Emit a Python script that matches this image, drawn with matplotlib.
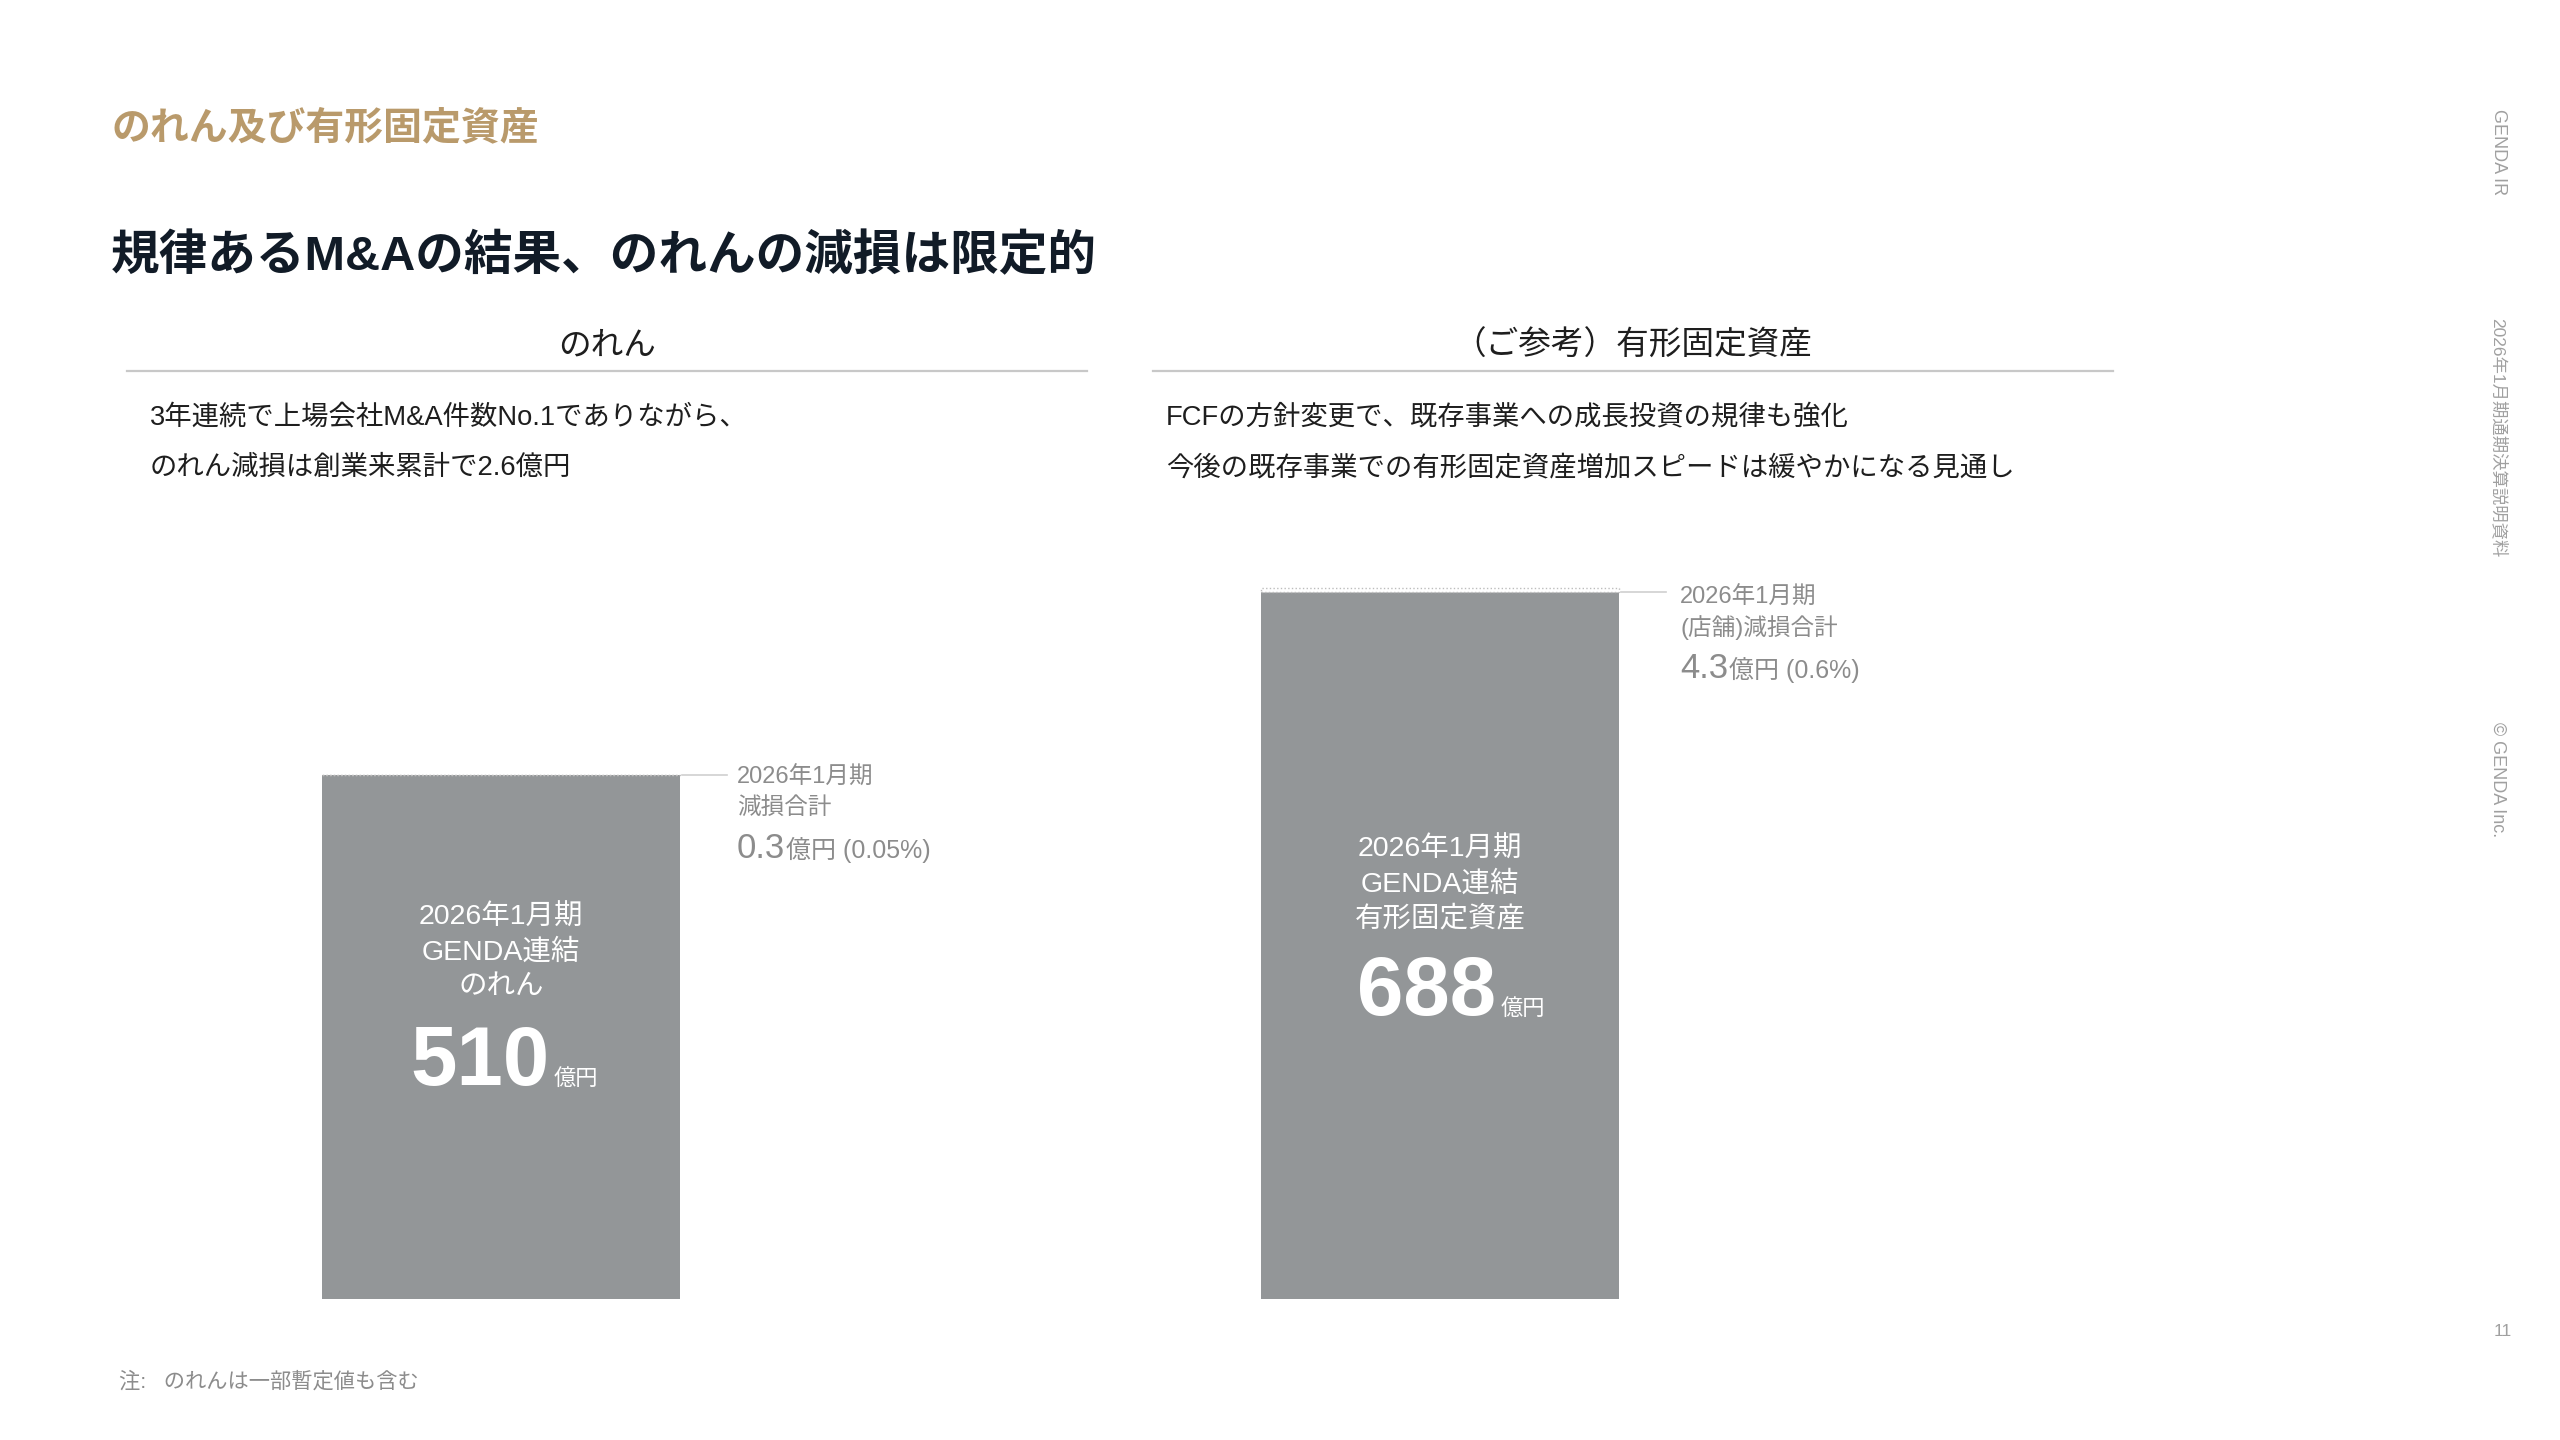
import numpy as np
import matplotlib
matplotlib.use('Agg')
import matplotlib.pyplot as plt

# data
panels = ['のれん', '（ご参考）有形固定資産']
bar_labels = ['2026年1月期\nGENDA連結\nのれん', '2026年1月期\nGENDA連結\n有形固定資産']
values = [510, 688]            # 億円
impairments = [0.3, 4.3]       # 億円
impair_pct = ['0.05%', '0.6%']
impair_titles = ['2026年1月期\n減損合計', '2026年1月期\n(店舗)減損合計']
notes_left = ['3年連続で上場会社M&A件数No.1でありながら、', 'のれん減損は創業来累計で2.6億円']
notes_right = ['FCFの方針変更で、既存事業への成長投資の規律も強化',
               '今後の既存事業での有形固定資産増加スピードは緩やかになる見通し']

W, H = 2560, 1440
JP = ['Liberation Sans', 'Noto Sans CJK JP']
plt.rcParams['font.family'] = JP

BAR = '#939698'
GOLD = '#B99A6B'
NAVY = '#111B27'
DARK = '#1E1E1E'
GREY = '#8C8C8C'
LIGHT = '#C8C8C8'
SIDE = '#A0A0A0'

fig = plt.figure(figsize=(W / 100, H / 100), dpi=100)
fig.patch.set_facecolor('white')


def px(x, y):
    return x / W, 1 - y / H


def put(x, y, s, **kw):
    return fig.text(*px(x, y), s, **kw)


# header
put(111, 129, 'のれん及び有形固定資産', fontsize=28, color=GOLD, fontweight='bold', va='center')
put(111, 257, '規律あるM&Aの結果、のれんの減損は限定的', fontsize=35, color=NAVY,
    fontweight='bold', va='center')

# panel headers and underlines
for cx, (x0, x1), title in [(607, (127, 1087), panels[0]), (1633, (1153, 2113), panels[1])]:
    put(cx, 346, title, fontsize=23.5, color=DARK, ha='center', va='center')
    fig.add_artist(plt.Line2D([x0 / W, x1 / W], [1 - 371 / H] * 2, color=LIGHT, lw=1.6))

for i, s in enumerate(notes_left):
    put(150, 418 + 50 * i, s, fontsize=19.7, color=DARK, va='center')
for i, s in enumerate(notes_right):
    put(1166, 418 + 50 * i, s, fontsize=19.7, color=DARK, va='center')

# bars
ax = fig.add_axes([0, 1 - 1299 / H, 1, 1000 / H])
x = np.arange(len(values))
w = 0.3823
ax.bar(x, values, width=w, color=BAR, zorder=2)
ax.bar(x, impairments, bottom=values, width=w, facecolor='white', edgecolor='#BDBDBD',
       linestyle=':', linewidth=1.0, zorder=3)
ax.set_xlim(-501 / 939, (W - 501) / 939)
ax.set_ylim(0, 1000 / 1.0275)
ax.axis('off')

gap = 2 / 939
for i in range(len(values)):
    xe = x[i] + w / 2
    ax.plot([xe + gap, xe + 47 / 939], [values[i]] * 2, color='#CFCFCF', lw=1.2, zorder=1)

fig.canvas.draw()
r = fig.canvas.get_renderer()


def num_unit(x0, y0, num, unit, nsize, usize, color, weight, gap_px):
    t = put(x0, y0, num, fontsize=nsize, color=color, fontweight=weight, va='baseline')
    bb = t.get_window_extent(renderer=r)
    fig.text((bb.x1 + gap_px) / W, 1 - y0 / H, unit, fontsize=usize, color=color, va='baseline')


# impairment annotations
ann_pos = [(737, 778), (1680, 598)]
for i, (ax0, ay0) in enumerate(ann_pos):
    for j, line in enumerate(impair_titles[i].split('\n')):
        put(ax0, ay0 + 30 * j, line, fontsize=17, color=GREY, va='center')
    num_unit(ax0, ay0 + 80, f'{impairments[i]}', f'億円 ({impair_pct[i]})',
             25, 18, GREY, 'normal', 1)

# labels inside bars
inner = [(501, 918, 410, 1085), (1440, 850, 1357, 1015)]
for i, (cx, ty, nx, ny) in enumerate(inner):
    for j, line in enumerate(bar_labels[i].split('\n')):
        put(cx, ty + 34.5 * j, line, fontsize=20.5, color='white', ha='center', va='center')
    num_unit(nx, ny, f'{values[i]}', '億円', 60, 16, 'white', 'bold', 4)

# side marks
put(2498, 152, 'GENDA IR', fontsize=13, color=SIDE, rotation=270, ha='center', va='center')
put(2498, 438, '2026年1月期通期決算説明資料', fontsize=12.5, color=SIDE, rotation=270,
    ha='center', va='center')
put(2498, 780, '© GENDA Inc.', fontsize=13, color=SIDE, rotation=270, ha='center', va='center')
put(2503, 1331, '11', fontsize=12.5, color=SIDE, ha='center', va='center')

put(119, 1381, '注:   のれんは一部暫定値も含む', fontsize=15.3, color=GREY, va='center')

fig.savefig('out.png', dpi=100, facecolor='white')
